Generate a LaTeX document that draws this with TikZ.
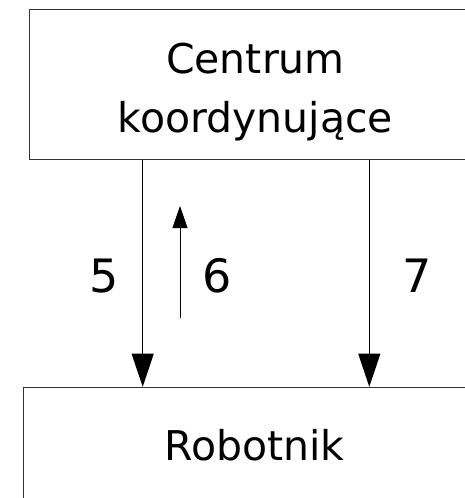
\documentclass[tikz,border=0pt]{standalone}
\usepackage{fontspec}
\setmainfont{DejaVu Sans}
\usetikzlibrary{arrows.meta}
\begin{document}
\begin{tikzpicture}[x=1pt,y=-1pt,
  block/.style={draw=black!80,line width=1pt,rectangle,inner sep=0pt,anchor=north west},
  boxtext/.style={font=\fontsize{41}{59}\selectfont,anchor=base,inner sep=0pt},
  numlabel/.style={font=\fontsize{46}{50}\selectfont,anchor=base,inner sep=0pt},
  flow/.style={line width=1pt,-{Triangle[length=33pt,width=22pt]}},
  small flow/.style={line width=1pt,-{Triangle[length=22pt,width=15pt]}}]
  \useasboundingbox (0,0) rectangle (465,498);
  \clip (0,0) rectangle (465,498);
  % upper and lower blocks (both run past the right edge)
  \node[block,minimum width=454pt,minimum height=150pt] (top) at (29,9) {};
  \node[block,minimum width=464pt,minimum height=160pt] (bot) at (22.7,386.7) {};
  \node[boxtext] (t1) at (255.5,73) {Centrum};
  \node[boxtext] (t2) at (255.5,132) {koordynujące};
  \node[boxtext] (t3) at (254.5,460) {Robotnik};
  % connector columns
  \coordinate (x5) at (142.7,0);
  \coordinate (x7) at (369.3,0);
  \coordinate (s6) at (180,318);
  \coordinate (e6) at (180,206);
  \draw[flow] (x5 |- top.south) -- (x5 |- bot.north);
  \draw[flow] (x7 |- top.south) -- (x7 |- bot.north);
  \draw[small flow] (s6) -- (e6);
  % flow numbers
  \node[numlabel] (n5) at (104,292) {5};
  \node[numlabel] (n6) at (217,292) {6};
  \node[numlabel] (n7) at (417,292) {7};
\end{tikzpicture}
\end{document}
